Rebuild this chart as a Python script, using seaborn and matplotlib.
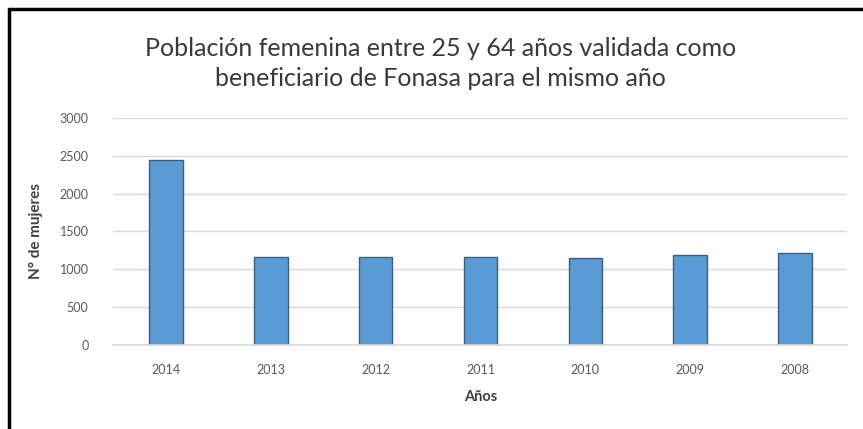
import numpy as np
import pandas as pd
import matplotlib
matplotlib.use("Agg")
import matplotlib.pyplot as plt
import seaborn as sns
from matplotlib.lines import Line2D

# Data
years   = ["2014", "2013", "2012", "2011", "2010", "2009", "2008"]
mujeres = [2440, 1160, 1160, 1160, 1145, 1185, 1215]
y_ticks = [0, 500, 1000, 1500, 2000, 2500, 3000]

df = pd.DataFrame({"year": years, "n": mujeres})

sns.set_theme(style="white")
plt.rcParams["font.family"] = ["Lato", "DejaVu Sans"]

fig = plt.figure(figsize=(8.63, 4.29), dpi=100)
ax = fig.add_axes([0.1315, 0.196, 0.8505, 0.529])

sns.barplot(data=df, x="year", y="n", order=years, color="#5B9BD5",
            width=0.32, edgecolor="#3A5F80", linewidth=1.0, saturation=1, ax=ax)

ax.set_ylim(0, 3000)
ax.set_yticks(y_ticks)
ax.set_yticklabels([str(t) for t in y_ticks])
ax.yaxis.grid(True, color="#D9D9D9", lw=1)
ax.set_axisbelow(True)
for s in ["top", "right", "left"]:
    ax.spines[s].set_visible(False)
ax.spines["bottom"].set_color("#D9D9D9")
ax.tick_params(axis="both", length=0, labelsize=9, colors="#595959")
ax.tick_params(axis="x", pad=14)
ax.tick_params(axis="y", pad=18)

ax.set_xlabel("Años", fontsize=10.5, fontweight="bold", color="#404040", labelpad=10)
ax.set_ylabel("N° de mujeres", fontsize=11, fontweight="bold", color="#404040", labelpad=12)

fig.text(0.51, 0.888, "Población femenina entre 25 y 64 años validada como",
         ha="center", va="center", fontsize=18, color="#3a3a3a")
fig.text(0.51, 0.818, "beneficiario de Fonasa para el mismo año",
         ha="center", va="center", fontsize=18, color="#3a3a3a")

# black frame around the chart (top and left edges as in the screenshot)
fig.add_artist(Line2D([0.011, 1.0], [0.978, 0.978], color="black", lw=2.5,
                      transform=fig.transFigure))
fig.add_artist(Line2D([0.011, 0.011], [0.0, 0.978], color="black", lw=2.5,
                      transform=fig.transFigure))

plt.savefig("out.png", dpi=100)
plt.close()
